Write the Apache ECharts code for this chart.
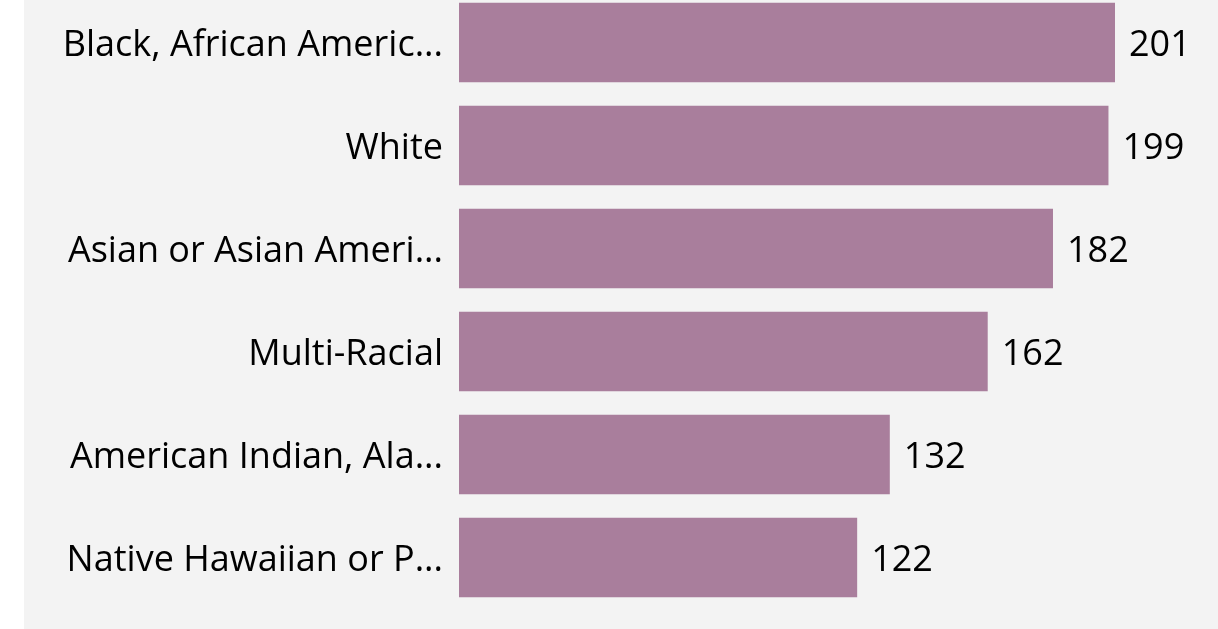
<!DOCTYPE html>
<html>
<head>
<meta charset="utf-8">
<script src="https://cdn.jsdelivr.net/npm/echarts@6/dist/echarts.min.js"></script>
<style>
html,body{margin:0;padding:0;background:#ffffff;overflow:hidden;}
#bg{position:absolute;left:24px;top:0;width:1194px;height:629px;background:#f3f3f3;}
#chart{position:absolute;left:0;top:-20px;width:1218px;height:649px;}
</style>
</head>
<body>
<div id="bg"></div>
<div id="chart"></div>
<script>
const categories = [
  "Black, African American",
  "White",
  "Asian or Asian American",
  "Multi-Racial",
  "American Indian, Alaska Native",
  "Native Hawaiian or Pacific Islander"
];
const values = [201, 199, 182, 162, 132, 122];

const chart = echarts.init(document.getElementById('chart'), null, {renderer: 'canvas'});
chart.setOption({
  backgroundColor: 'transparent',
  animation: false,
  grid: {left: 459, right: 103, top: 11, height: 618, containLabel: false},
  xAxis: {
    type: 'value', min: 0, max: 201, show: false
  },
  yAxis: {
    type: 'category',
    data: categories,
    inverse: true,
    axisLine: {show: false},
    axisTick: {show: false},
    splitLine: {show: false},
    axisLabel: {
      margin: 16,
      color: '#000000',
      fontSize: 36,
      fontFamily: 'Open Sans',
      width: 386,
      overflow: 'truncate',
      ellipsis: '...',
      formatter: function (v) { return '{a|' + v + '}'; },
      rich: {
        a: {
          color: '#000000',
          fontSize: 36,
          fontFamily: 'Open Sans',
          padding: [6, 0, 0, 0]
        }
      }
    }
  },
  series: [{
    type: 'bar',
    data: values,
    barCategoryGap: '23%',
    itemStyle: {color: '#a97e9c'},
    label: {
      show: true,
      position: 'right',
      distance: 14,
      offset: [0, 3],
      color: '#000000',
      fontSize: 36,
      fontFamily: 'Open Sans'
    }
  }]
});
</script>
</body>
</html>
